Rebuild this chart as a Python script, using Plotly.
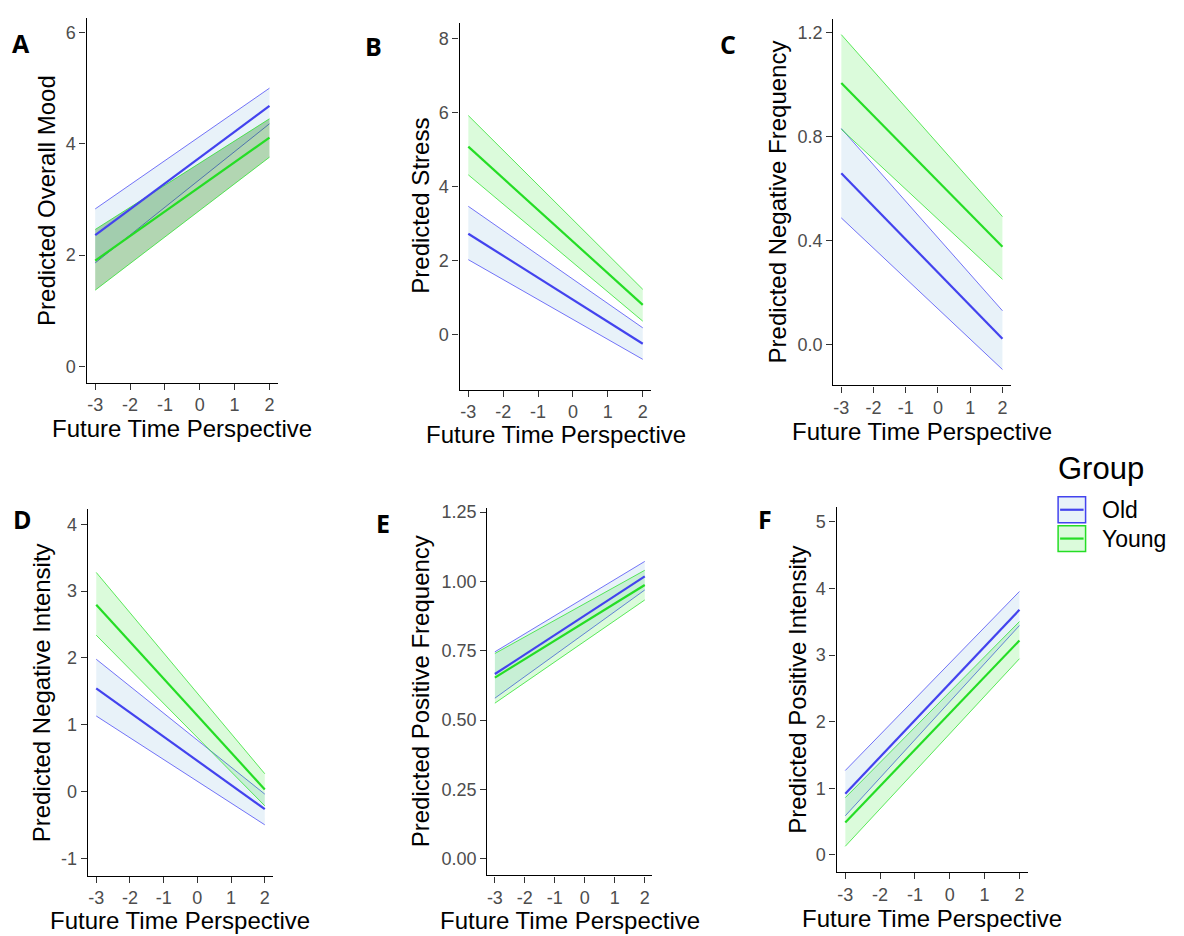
import plotly.graph_objects as go

# ---------------- data ----------------
ftp = [-3, 2]  # Future Time Perspective endpoints of each fitted line
ftp_ticks = [-3, -2, -1, 0, 1, 2]
ftp_labels = ["-3", "-2", "-1", "0", "1", "2"]

groups = ["Old", "Young"]

# A  Predicted Overall Mood
mood_old = [2.36, 4.68]
mood_old_lo = [1.86, 4.36]
mood_old_hi = [2.83, 5.00]
mood_young = [1.90, 4.11]
mood_young_lo = [1.37, 3.76]
mood_young_hi = [2.46, 4.45]

# B  Predicted Stress
stress_old = [2.73, -0.24]
stress_old_lo = [2.03, -0.66]
stress_old_hi = [3.47, 0.19]
stress_young = [5.08, 0.81]
stress_young_lo = [4.32, 0.37]
stress_young_hi = [5.92, 1.23]

# C  Predicted Negative Frequency
negfreq_old = [0.659, 0.022]
negfreq_old_lo = [0.487, -0.096]
negfreq_old_hi = [0.831, 0.130]
negfreq_young = [1.006, 0.376]
negfreq_young_lo = [0.828, 0.251]
negfreq_young_hi = [1.192, 0.492]

# D  Predicted Negative Intensity
negint_old = [1.545, -0.265]
negint_old_lo = [1.13, -0.50]
negint_old_hi = [1.98, -0.04]
negint_young = [2.795, 0.03]
negint_young_lo = [2.34, -0.215]
negint_young_hi = [3.28, 0.265]

# E  Predicted Positive Frequency
posfreq_old = [0.666, 1.018]
posfreq_old_lo = [0.579, 0.969]
posfreq_old_hi = [0.746, 1.072]
posfreq_young = [0.653, 0.987]
posfreq_young_lo = [0.561, 0.933]
posfreq_young_hi = [0.740, 1.040]

# F  Predicted Positive Intensity
posint_old = [0.918, 3.68]
posint_old_lo = [0.586, 3.444]
posint_old_hi = [1.267, 3.956]
posint_young = [0.486, 3.22]
posint_young_lo = [0.128, 2.946]
posint_young_hi = [0.859, 3.504]

# y ticks
mood_ticks = [0, 2, 4, 6]
stress_ticks = [0, 2, 4, 6, 8]
negfreq_ticks = [0.0, 0.4, 0.8, 1.2]
negfreq_labels = ["0.0", "0.4", "0.8", "1.2"]
negint_ticks = [-1, 0, 1, 2, 3, 4]
negint_labels = ["-1", "0", "1", "2", "3", "4"]
posfreq_ticks = [0.0, 0.25, 0.5, 0.75, 1.0, 1.25]
posfreq_labels = ["0.00", "0.25", "0.50", "0.75", "1.00", "1.25"]
posint_ticks = [0, 1, 2, 3, 4, 5]

# ---------------- styling / layout ----------------
W, H = 1184, 936
FONT = "Liberation Sans, Arial, sans-serif"

OLD_LINE = "#4343ee"
OLD_EDGE = "rgba(70,70,245,0.75)"
OLD_FILL = "rgba(100,165,215,0.15)"
YOUNG_LINE = "#25dd25"
YOUNG_EDGE = "rgba(40,225,40,0.75)"
YOUNG_FILL = "rgba(0,230,0,0.14)"
YOUNG_FILL_A = "rgba(0,120,0,0.30)"

panels = [
    dict(letter="A", ytitle="Predicted Overall Mood",
         old=(mood_old, mood_old_lo, mood_old_hi),
         young=(mood_young, mood_young_lo, mood_young_hi),
         xpx=((-3, 94.3), (2, 268.7)), ypx=((6, 26.7), (0, 362.7)),
         yrange=[-0.29, 6.27], yticks=mood_ticks, ylabels=[str(v) for v in mood_ticks],
         yfill=YOUNG_FILL_A,
         letter_xy=(20.5, 37), ytitle_x=45, xtitle_y=425),
    dict(letter="B", ytitle="Predicted Stress",
         old=(stress_old, stress_old_lo, stress_old_hi),
         young=(stress_young, stress_young_lo, stress_young_hi),
         xpx=((-3, 467.7), (2, 642.3)), ypx=((8, 32.7), (0, 331)),
         yrange=[-1.475, 8.43], yticks=stress_ticks, ylabels=[str(v) for v in stress_ticks],
         yfill=YOUNG_FILL,
         letter_xy=(373, 40), ytitle_x=419, xtitle_y=431),
    dict(letter="C", ytitle="Predicted Negative Frequency",
         old=(negfreq_old, negfreq_old_lo, negfreq_old_hi),
         young=(negfreq_young, negfreq_young_lo, negfreq_young_hi),
         xpx=((-3, 841), (2, 1002.3)), ypx=((1.2, 26.7), (0, 340.7)),
         yrange=[-0.157, 1.253], yticks=negfreq_ticks, ylabels=negfreq_labels,
         yfill=YOUNG_FILL,
         letter_xy=(728, 38), ytitle_x=777, xtitle_y=428),
    dict(letter="D", ytitle="Predicted Negative Intensity",
         old=(negint_old, negint_old_lo, negint_old_hi),
         young=(negint_young, negint_young_lo, negint_young_hi),
         xpx=((-3, 95.3), (2, 264)), ypx=((4, 521.7), (-1, 857.7)),
         yrange=[-1.26, 4.23], yticks=negint_ticks, ylabels=negint_labels,
         yfill=YOUNG_FILL,
         letter_xy=(22, 516), ytitle_x=40, xtitle_y=920),
    dict(letter="E", ytitle="Predicted Positive Frequency",
         old=(posfreq_old, posfreq_old_lo, posfreq_old_hi),
         young=(posfreq_young, posfreq_young_lo, posfreq_young_hi),
         xpx=((-3, 494.3), (2, 644.3)), ypx=((1.25, 509.3), (0, 858.3)),
         yrange=[-0.06, 1.265], yticks=posfreq_ticks, ylabels=posfreq_labels,
         yfill=YOUNG_FILL,
         letter_xy=(382, 520.5), ytitle_x=420, xtitle_y=920),
    dict(letter="F", ytitle="Predicted Positive Intensity",
         old=(posint_old, posint_old_lo, posint_old_hi),
         young=(posint_young, posint_young_lo, posint_young_hi),
         xpx=((-3, 845), (2, 1019.3)), ypx=((5, 519.3), (0, 854.3)),
         yrange=[-0.26, 5.23], yticks=posint_ticks, ylabels=[str(v) for v in posint_ticks],
         yfill=YOUNG_FILL,
         letter_xy=(765, 516), ytitle_x=797, xtitle_y=918),
]

XRANGE = [-3.25, 2.25]


def px_span(a, b, lo, hi):
    (v1, p1), (v2, p2) = a, b
    s = (p2 - p1) / (v2 - v1)
    return p1 + (lo - v1) * s, p1 + (hi - v1) * s


fig = go.Figure()
annotations = []
shapes = []

for i, p in enumerate(panels):
    n = "" if i == 0 else str(i + 1)
    xa, ya = "x" + n, "y" + n
    xl, xr = px_span(*p["xpx"], *XRANGE)
    ybot, ytop = px_span(*p["ypx"], *p["yrange"])

    axis_common = dict(showline=True, linecolor="black", linewidth=1.4,
                       ticks="outside", ticklen=6, tickwidth=1.3, tickcolor="#333333",
                       showgrid=False, zeroline=False,
                       tickfont=dict(family=FONT, size=18, color="#4d4d4d"))
    fig.update_layout(**{
        "xaxis" + n: dict(domain=[xl / W, xr / W], range=XRANGE, anchor=ya,
                          tickvals=ftp_ticks, ticktext=ftp_labels, **axis_common),
        "yaxis" + n: dict(domain=[1 - ybot / H, 1 - ytop / H], range=p["yrange"], anchor=xa,
                          tickvals=p["yticks"], ticktext=p["ylabels"], **axis_common),
    })

    for g, vals, fill, edge, line in [
        ("Old", p["old"], OLD_FILL, OLD_EDGE, OLD_LINE),
        ("Young", p["young"], p["yfill"], YOUNG_EDGE, YOUNG_LINE),
    ]:
        fit, lo, hi = vals
        fig.add_trace(go.Scatter(x=ftp + ftp[::-1], y=hi + lo[::-1], fill="toself",
                                 fillcolor=fill, line=dict(width=0), mode="lines",
                                 xaxis=xa, yaxis=ya, showlegend=False, hoverinfo="skip"))
        for edge_vals in (lo, hi):
            fig.add_trace(go.Scatter(x=ftp, y=edge_vals, mode="lines",
                                     line=dict(color=edge, width=1),
                                     xaxis=xa, yaxis=ya, showlegend=False, hoverinfo="skip"))
    for g, vals, line in [("Old", p["old"], OLD_LINE), ("Young", p["young"], YOUNG_LINE)]:
        fig.add_trace(go.Scatter(x=ftp, y=vals[0], mode="lines", name=g,
                                 line=dict(color=line, width=2.2),
                                 xaxis=xa, yaxis=ya, showlegend=False))

    # axis titles
    annotations.append(dict(text="Future Time Perspective", xref="paper", yref="paper",
                            x=(xl + xr) / 2 / W, y=1 - p["xtitle_y"] / H,
                            xanchor="center", yanchor="middle", showarrow=False,
                            font=dict(family=FONT, size=24, color="black")))
    annotations.append(dict(text=p["ytitle"], xref="paper", yref="paper",
                            x=p["ytitle_x"] / W, y=1 - (ybot + ytop) / 2 / H, textangle=-90,
                            xanchor="center", yanchor="middle", showarrow=False,
                            font=dict(family=FONT, size=24, color="black")))
    # panel letter
    lx, ly = p["letter_xy"]
    annotations.append(dict(text="<b>%s</b>" % p["letter"], xref="paper", yref="paper",
                            x=lx / W, y=1 - ly / H, xanchor="center", yanchor="middle",
                            showarrow=False,
                            font=dict(family="Open Sans, Noto Sans, sans-serif", size=25,
                                      color="black")))

# ---------------- legend (drawn as in ggplot) ----------------
annotations.append(dict(text="Group", xref="paper", yref="paper", x=1056 / W, y=1 - 465 / H,
                        xanchor="left", yanchor="middle", showarrow=False,
                        font=dict(family=FONT, size=31, color="black")))
for g, (top, bot), fill, edge, line in [
    ("Old", (494, 520), OLD_FILL, OLD_LINE, OLD_LINE),
    ("Young", (523, 549), YOUNG_FILL, YOUNG_EDGE, YOUNG_LINE),
]:
    shapes.append(dict(type="rect", xref="paper", yref="paper",
                       x0=1058 / W, x1=1085.5 / W, y0=1 - bot / H, y1=1 - top / H,
                       fillcolor=fill, line=dict(color=line, width=1.5)))
    mid = (top + bot) / 2
    shapes.append(dict(type="line", xref="paper", yref="paper",
                       x0=1060 / W, x1=1083.5 / W, y0=1 - mid / H, y1=1 - mid / H,
                       line=dict(color=line, width=2.2)))
    annotations.append(dict(text=g, xref="paper", yref="paper", x=1100 / W, y=1 - mid / H,
                            xanchor="left", yanchor="middle", showarrow=False,
                            font=dict(family=FONT, size=23, color="black")))

fig.update_layout(width=W, height=H, margin=dict(l=0, r=0, t=0, b=0),
                  paper_bgcolor="white", plot_bgcolor="white", showlegend=False,
                  annotations=annotations, shapes=shapes)

fig.write_html("out.html", config={"displayModeBar": False},
               post_script="document.body.style.margin='0';document.body.style.padding='0';")
